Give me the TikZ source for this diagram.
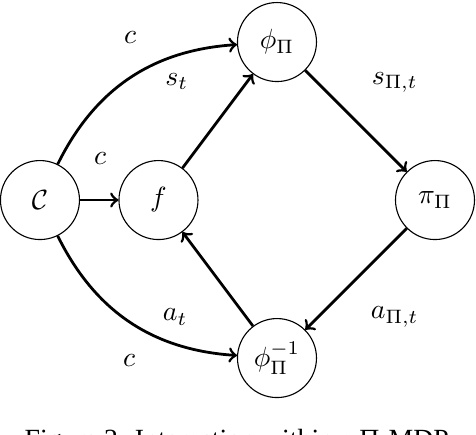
\documentclass[tikz,border=0pt]{standalone}
\usepackage{fontspec}
\newfontfamily\capfont{Liberation Serif}
\begin{document}
\begin{tikzpicture}[
  st/.style={circle,draw,minimum size=1cm,inner sep=0pt},
  arr/.style={->,line width=1pt},
  lab/.style={inner sep=0pt}
]
\clip (-0.506,-2.962) rectangle (5.519,2.532);
\node[st] (C) at (0,0) {$\mathcal{C}$};
\node[st] (f) at (1.5,0) {$f$};
\node[st] (phi) at (3,2) {$\phi_\Pi$};
\node[st] (pi) at (5,0) {$\pi_\Pi$};
\node[st] (phiinv) at (3,-2) {$\phi_\Pi^{-1}$};
\draw[arr] (C) -- (f);
\draw[arr] (f) -- (phi);
\draw[arr] (phi) -- (pi);
\draw[arr] (pi) -- (phiinv);
\draw[arr] (phiinv) -- (f);
\draw[arr] (C) to[bend left=30] (phi);
\draw[arr] (C) to[bend right=30] (phiinv);
\node[lab] (l1) at (1.14,2.06) {$c$};
\node[lab] (l2) at (1.73,1.50) {$s_t$};
\node[lab] (l3) at (0.76,0.52) {$c$};
\node[lab] (l4) at (4.49,1.49) {$s_{\Pi,t}$};
\node[lab] (l5) at (4.49,-1.48) {$a_{\Pi,t}$};
\node[lab] (l6) at (1.71,-1.48) {$a_t$};
\node[lab] (l7) at (1.13,-2.03) {$c$};
\node[anchor=base] (cap) at (2.49,-3.15) {\capfont Figure 2: Interaction within a Π-MDP};
\end{tikzpicture}
\end{document}
